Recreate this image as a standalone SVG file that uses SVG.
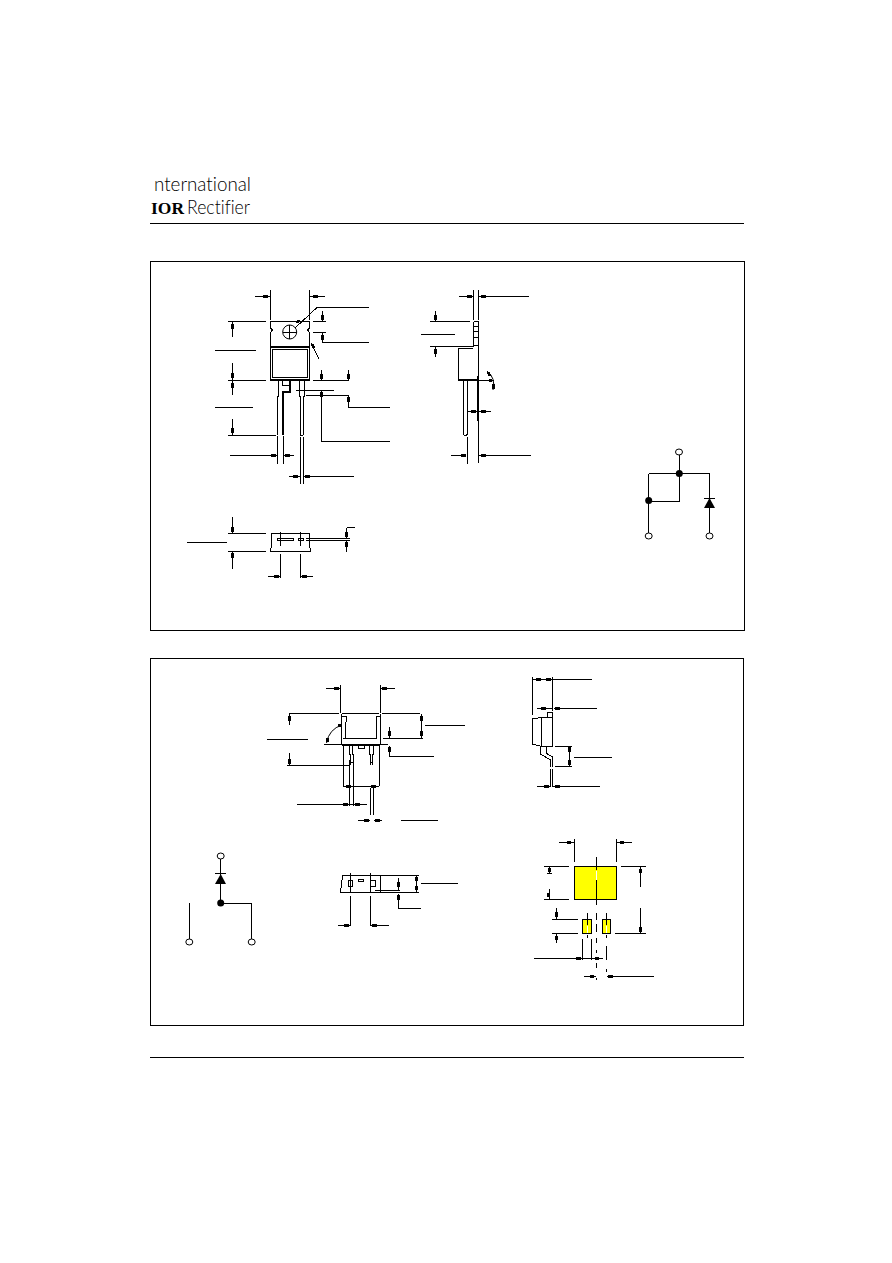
<svg xmlns="http://www.w3.org/2000/svg" width="892" height="1263" viewBox="0 0 892 1263">
<style>
.l{fill:none;stroke:#000;stroke-width:1;shape-rendering:crispEdges}
.c{fill:none;stroke:#000;stroke-width:1}
.h{fill:none;stroke:#000;stroke-width:3;shape-rendering:crispEdges}
.t{fill:none;stroke:#000;stroke-width:2;shape-rendering:crispEdges}
.d{fill:#000}
.o{fill:#fff;stroke:#000;stroke-width:1}
.y{fill:#ff0;stroke:#000;stroke-width:1;shape-rendering:crispEdges}
.g{font-family:"Lato","Liberation Sans",sans-serif;font-weight:300;font-size:19px;fill:#000;font-variant-ligatures:none}
</style>
<rect width="892" height="1263" fill="#fff"/>
<g id="header">
<text class="g" x="154" y="191" textLength="97" lengthAdjust="spacingAndGlyphs">nternational</text>
<text x="151" y="214" textLength="33" lengthAdjust="spacingAndGlyphs" style="font-family:'Liberation Serif',serif;font-weight:700;font-size:17px">IOR</text>
<text class="g" x="187" y="214" textLength="63" lengthAdjust="spacingAndGlyphs">Rectifier</text>
<path class="l" d="M150 223.500H744M150 1057.500H744"/>
</g>
<g id="frames">
<rect class="l" x="150.500" y="261.500" width="594" height="369"/>
<rect class="l" x="150.500" y="658.500" width="593" height="367"/>
</g>
<g id="front-view">
<path class="l" d="M270.500 290V320M309.500 290V320M255 296.500H270M310 296.500H325"/>
<path class="h" d="M263 296.500h5M313 296.500h5"/>
<path class="l" d="M270.500 321.500H309.500V328l-2 2 2 2.500V380.500H270.500V332.500l2-2.500-2-2z"/>
<path class="t" d="M270 347H310M270 380H310"/>
<rect class="l" x="272.500" y="349.500" width="35" height="28"/>
<circle class="c" cx="289.700" cy="332" r="7"/>
<path class="l" d="M289.500 325V339M283 332.500H297"/>
<path class="l" d="M295 328L317 307.500H369M313 321.500H326M322.500 311V321M313 332.500H326M322.500 333V342.500H369M311 343L319 359"/>
<path class="h" d="M299 320l-2 3M322.500 315v5M322.500 335v5M312 344l2 4"/>
<path class="l" d="M228 321.500H266M232.500 321V337M215 350.500H256M232.500 363V395M228 380.500H266M215 407.500H253M232.500 419V435M228 435.500H276"/>
<path class="h" d="M232.500 324v5M232.500 373v5M232.500 383v5M232.500 428v5"/>
<path class="l" d="M313 380.500H349M321.500 370V380M348.500 370V380M296 390.500H334M321.500 391V441.500H390M306 395.500H349M348.500 396V407.500H390"/>
<path class="h" d="M321.500 374v5M348.500 374v5M321.500 392v5M348.500 397v5"/>
<path class="l" d="M278.500 380V396H277.500V435M283 391V435M282.500 380.500V385.500H290M299 380V396H300V435M304 380V396H303V435M300 435.500H303"/>
<path class="t" d="M290 380V391.500H283V435"/>
<path class="l" d="M277.500 436V464M283.500 436V464M230 455.500H277M284 455.500H294M300.500 437V484M303.500 437V484M289 476.500H300M304 476.500H354"/>
<path class="h" d="M271 455.500h5M285 455.500h5M293 476.500h5M305 476.500h5"/>
</g>
<g id="side-view">
<path class="l" d="M473.500 290V320M478.500 290V320M459 296.500H473M479 296.500H529"/>
<path class="h" d="M467 296.500h5M481 296.500h5"/>
<path class="l" d="M473.500 321.500H478.500V380M473.500 321.500V346.500M473 326.500H478M473 331.500H478M473 337.500H478M473 345.500H478M430 321.500H470M435.500 311V321M421 334.500H455M430 346.500H473M435.500 347V357"/>
<path class="h" d="M435.500 315v5M435.500 349v5"/>
<path class="l" d="M458.500 348.500H473M458.500 348V380"/>
<path class="t" d="M458 380H478"/>
<path class="t" d="M478 376V421"/>
<path class="l" d="M463.500 380V434.500L464.500 435.500H466L467 434.500V380M467 437V464M478.500 421V463M467 411.500H491M451 455.500H466M479 455.500H531M478 380.500H494"/>
<path class="c" d="M487 371Q496 378 493 390"/>
<path class="h" d="M471 411.500h5M481 411.500h5M461 455.500h5M481 455.500h5M488 372l2 4M489 380.500h3M493 384v5"/>
</g>
<g id="bottom-view">
<path class="l" d="M271.500 533.500H309.500V544L310.500 551.500H270.500L271.500 544Z"/>
<rect class="l" x="277.500" y="538.500" width="16" height="2"/>
<rect class="l" x="298.500" y="538.500" width="5" height="2"/>
<path class="l" d="M280.500 532V546M300.500 532V546M280.500 554V578M300.500 554V578M268 576.500H280M301 576.500H313M228 533.500H266M228 551.500H266M232.500 517V533M232.500 552V569M187 542.500H227M306 538.500H350M306 540.500H350M346.500 528V538M346.500 527.500H355M346.500 541V552"/>
<path class="h" d="M274 576.500h5M302 576.500h5M232.500 527v5M232.500 553v5M346.500 532v5M346.500 542v5"/>
</g>
<g id="schematic-1">
<path class="l" d="M679.500 455V501.500H648.500M648.500 473.500H709.500M648.500 473.500V533M709.500 473.500V533M704 498.500H715"/>
<path class="d" d="M709.500 498L715 508H704Z"/>
<circle class="d" cx="679.300" cy="473.500" r="3.500"/>
<circle class="d" cx="648.700" cy="500.500" r="3.500"/>
<ellipse class="o" cx="679" cy="452" rx="3.500" ry="3"/>
<ellipse class="o" cx="648.700" cy="536" rx="3.500" ry="3"/>
<ellipse class="o" cx="709.500" cy="536" rx="3.500" ry="3"/>
</g>
<g id="lower-front-view">
<path class="l" d="M340.500 685V713M380.500 685V713M326 688.500H340M381 688.500H395M289 713.500H339M342 713.500H379M382 713.500H420"/>
<path class="h" d="M334 688.500h5M382 688.500h5"/>
<path class="l" d="M341 714V745M342 716.500H346V722L345.500 738M380 714V745M381 716.500H376V722L377 738M343 738.500H377M383 738.500H423M324 744.500H343M379 744.500H388"/>
<path class="t" d="M342 745H380"/>
<path class="l" d="M343.500 745V786M379.500 745V786M343 786.500H379M358.500 745V748.500H364V745"/>
<path class="h" d="M346 786.500h5M371 786.500h5"/>
<path class="l" d="M349.500 745V754H350.500V765M352.500 745V754H353.500V765M369.500 745V754H370.500V765M373.500 745V754H372.500V765M350 762H353M370 762H373"/>
<path class="l" d="M349.500 760V806M353.500 765V806M370.500 788V815M373.500 788V815M297 804.500H367M358 820.500H370M374 820.500H382M401 820.500H438"/>
<path class="h" d="M343 804.500h5M355 804.500h5M364 820.500h5M375 820.500h5"/>
<path class="l" d="M287 765.500H349M289.500 714V725M289.500 753V765M267 739.500H308M421.500 714V738M425 725.500H465M389.500 727V738M389.500 746V756.500H434"/>
<path class="h" d="M289.500 716v5M289.500 759v5M421.500 716v5M421.500 731v5M389.500 731v5M389.500 747v5"/>
<path class="c" d="M326.500 743Q329 729 342 725"/>
<path class="h" d="M327 738v4M338 725.500h3"/>
</g>
<g id="lower-side-view">
<path class="l" d="M532.500 677V715M552.500 677V711M532 679.500H592M537 708.500H552M554 708.500H597"/>
<path class="h" d="M536 679.500h5M546 679.500h5M541 708.500h5M555 708.500h5"/>
<rect class="l" x="547.500" y="712.500" width="5" height="5"/>
<path class="l" d="M541.500 717.500H552.500V746.500H541.500ZM541.500 717.500L532.500 719V744L541.500 746.500"/>
<path class="l" d="M540.500 747V754L550.500 760V767M546 747V753L552.500 757V767"/>
<path class="l" d="M550.500 769V787M552.500 769V787M537 786.500H550M553 786.500H600M555 746.500H572M555 766.500H572M569.500 747V766M574 757.500H612"/>
<path class="h" d="M544 786.500h5M555 786.500h5M569.500 747v5M569.500 760v5"/>
</g>
<g id="lower-bottom-view">
<path class="l" d="M342.500 875.500H380.500V892.500H340.500L342.500 875.500M381 875.500H419M381 892.500H419M416.500 875V892M421 883.500H458"/>
<path class="h" d="M416.500 877v4M416.500 886v4M398.500 882v5M398.500 895v5"/>
<rect class="l" x="348.500" y="880.500" width="4" height="6"/>
<rect class="l" x="370.500" y="880.500" width="5" height="6"/>
<rect class="l" x="358.500" y="879.500" width="5" height="2"/>
<path class="l" d="M350.500 873V892M370.500 873V892M350.500 896V926M370.500 896V926M338 925.500H350M371 925.500H389M375 890.500H400M398.500 878V890M398.500 894V908.500H421"/>
<path class="h" d="M344 925.500h5M372 925.500h5"/>
</g>
<g id="schematic-2">
<path class="l" d="M220.500 859V903.500H251.500V939M189.500 903V939M215 873.500H226"/>
<path class="d" d="M220.700 874L226 884H215Z"/>
<circle class="d" cx="220.700" cy="903" r="3.500"/>
<ellipse class="o" cx="220.700" cy="856" rx="3.500" ry="3"/>
<ellipse class="o" cx="189.300" cy="942" rx="3.500" ry="3"/>
<ellipse class="o" cx="251.700" cy="942" rx="3.500" ry="3"/>
</g>
<g id="footprint">
<rect class="y" x="574.500" y="866.500" width="42" height="33"/>
<rect class="y" x="582.500" y="919.500" width="9" height="14"/>
<rect class="y" x="602.500" y="919.500" width="8" height="14"/>
<path class="l" d="M596.500 857V870"/>
<path d="M596.500 871V880" stroke="#fff" stroke-width="1" shape-rendering="crispEdges"/>
<path class="l" d="M596.500 880V905M596.500 913V920M596.500 924V932M596.500 938V943M596.500 950V953M596.500 963V968M596.500 978V980"/>
<path class="l" d="M587.500 913V925M587.500 935V938M606.500 913V925M606.500 935V938M606.500 946V960M606.500 969V972"/>
<path d="M587.500 926V933M606.500 926V933" stroke="#fff" stroke-width="1" shape-rendering="crispEdges"/>
<path class="l" d="M574.500 839V862M616.500 839V862M559 842.500H574M617 842.500H632M544 866.500H569M544 899.500H569M549.500 866V873M547 873.500H552M549.500 889V899M621 866.500H646M640.500 867V887M615 933.500H646M640.500 908V933M552 919.500H578M552 933.500H578M556.500 908V919M556.500 934V943"/>
<path class="h" d="M567 842.500h4M620 842.500h4M549.500 868v4M548.500 893v4M640.500 869v4M640.500 927v5M556.500 912v5M556.500 936v4"/>
<path class="l" d="M582.500 939V960M591.500 939V960M534 958.500H603M584 976.500H596M607 976.500H654"/>
<path class="h" d="M576 958.500h5M595 958.500h4M590 976.500h4M608 976.500h5"/>
</g>
</svg>
